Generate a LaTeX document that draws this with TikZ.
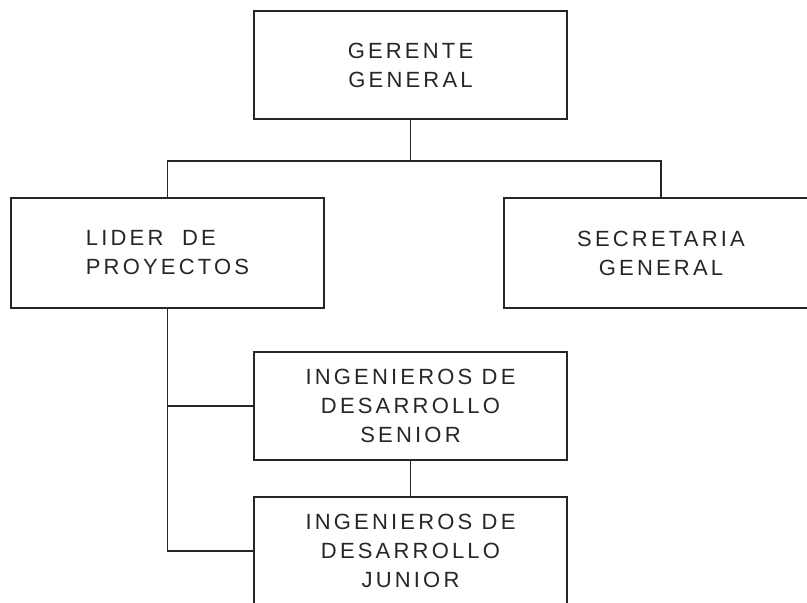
\documentclass[tikz,border=0pt]{standalone}
\usepackage{fontspec}
\setmainfont[LetterSpace=14.5]{Liberation Sans}
\begin{document}
\begin{tikzpicture}[x=0.75pt,y=-0.75pt,
  box/.style={draw=black!85, line width=1.2pt, rectangle, inner sep=0pt,
    align=center, text=black!85,
    font={\fontsize{16.5}{21.75}\selectfont}},
  link/.style={draw=black!85, line width=1.2pt}]
\useasboundingbox (0,0) rectangle (807,603);
\clip (0,0) rectangle (807,603);
\node[box, minimum width=234.75pt, minimum height=81pt] (ger) at (410.5,65) {GERENTE\\GENERAL};
\node[box, align=left, minimum width=234.75pt, minimum height=82.5pt] (lid) at (167.5,253) {LIDER \ DE\\PROYECTOS};
\node[box, minimum width=235.5pt, minimum height=82.5pt] (sec) at (661,253) {SECRETARIA\\GENERAL};
\node[box, minimum width=234.75pt, minimum height=81pt] (sen) at (410.5,406) {INGENIEROS DE\\DESARROLLO\\SENIOR};
\node[box, minimum width=234.75pt, minimum height=81pt] (jun) at (410.5,551) {INGENIEROS DE\\DESARROLLO\\JUNIOR};
\draw[link] (ger.south) -- ++(0,41) coordinate (hub);
\draw[link] (lid.north) |- (hub) -| (sec.north);
\draw[link] (lid.south) -- (lid.south |- jun.west) -- (jun.west);
\draw[link] (lid.south |- sen.west) -- (sen.west);
\draw[link] (sen.south) -- (jun.north);
\end{tikzpicture}
\end{document}
